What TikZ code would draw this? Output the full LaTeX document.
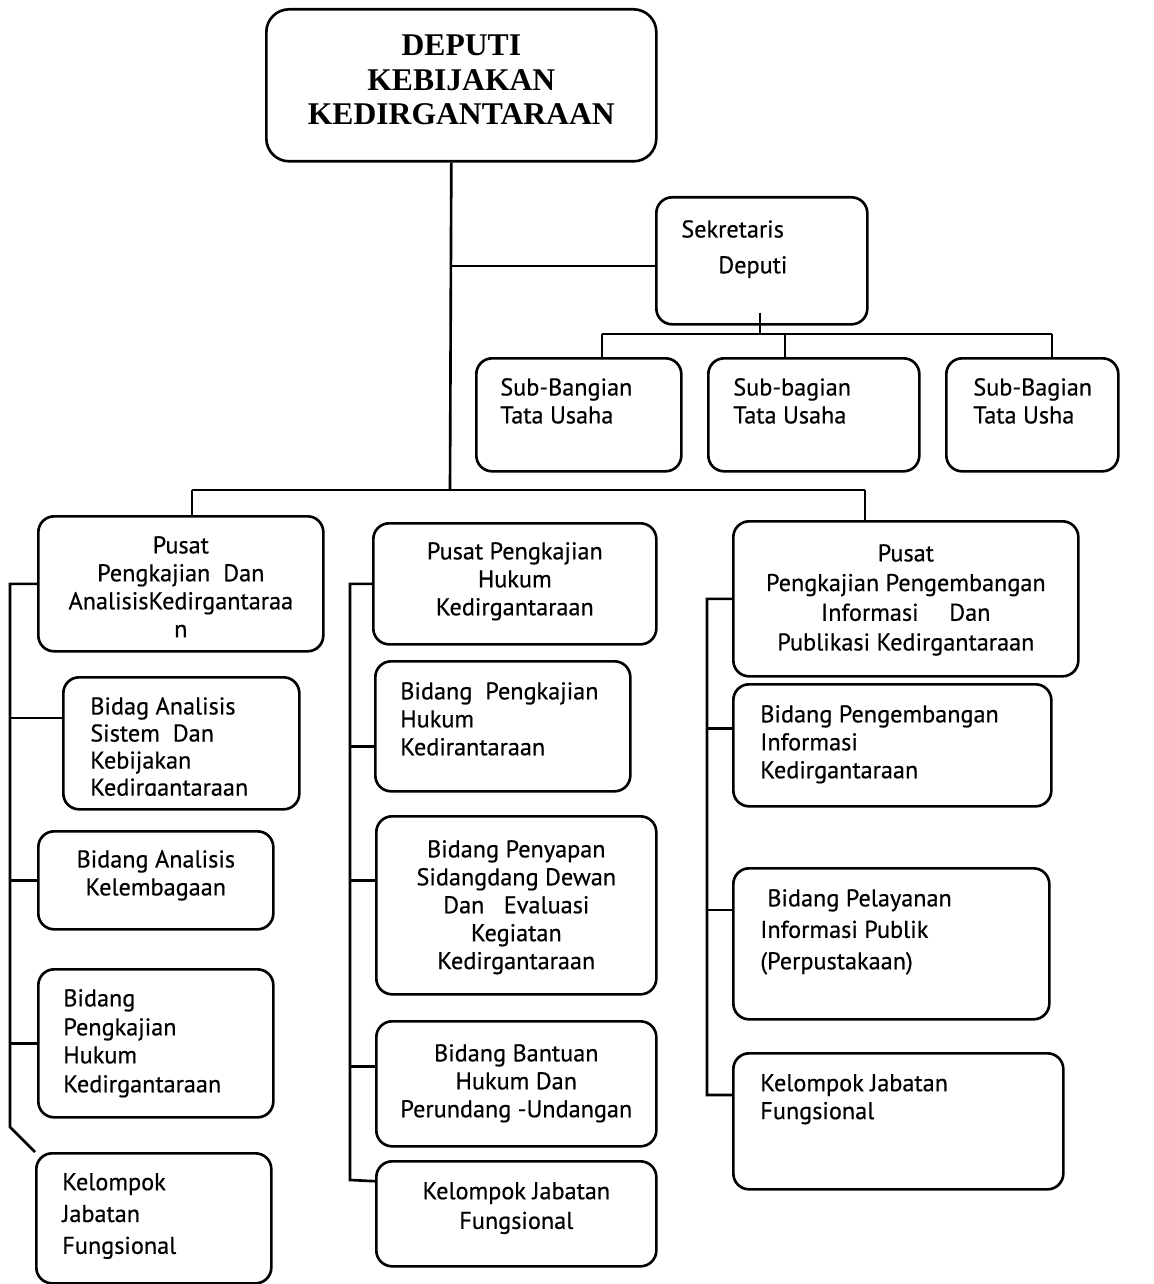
\documentclass[tikz,border=0pt]{standalone}
\usepackage{fontspec}
\setmainfont{PT Sans}[FakeBold=0.5]
\newfontfamily\headfont{Liberation Serif}
\usetikzlibrary{positioning}

\tikzset{
  box/.style 2 args={draw, line width=1.5pt, rounded corners=9pt, anchor=north west,
    inner sep=0pt, minimum width=#1*0.02cm, minimum height=#2*0.02cm},
  txt/.style={inner sep=0pt, yshift=-2.2pt, font=\fontsize{13.8}{15.9}\selectfont},
  txtl/.style={txt, align=left},
  txtc/.style={txt, align=center},
  link/.style={line width=1.5pt},
}

\begin{document}
\begin{tikzpicture}[x=0.02cm, y=-0.02cm]
\useasboundingbox (0,0) rectangle (1153,1284);

% top
\node[box={390}{152}, rounded corners=13pt] (deputi) at (265,8) {};
\node[txtc, yshift=2.2pt, font=\headfont\bfseries\fontsize{18}{19.9}\selectfont, below=0.52cm of deputi.north] (deputi t)
  {DEPUTI\\KEBIJAKAN\\KEDIRGANTARAAN};

\node[box={211}{127}] (sekr) at (655,196) {};
\node[txtl, below right=0.4cm and 0.52cm of sekr.north west] (sekr t)
  {Sekretaris\\[4.5pt]\hspace*{0.74cm}Deputi};

\node[box={205}{113}] (sub1) at (475,357) {};
\node[box={211}{113}] (sub2) at (707,357) {};
\node[box={172}{113}] (sub3) at (945,357) {};
\node[txtl, below right=0.34cm and 0.5cm of sub1.north west] (sub1 t) {Sub-Bangian\\Tata Usaha};
\node[txtl, below right=0.34cm and 0.52cm of sub2.north west] (sub2 t) {Sub-bagian\\Tata Usaha};
\node[txtl, below right=0.34cm and 0.56cm of sub3.north west] (sub3 t) {Sub-Bagian\\Tata Usha};

% kolom kiri
\node[box={285}{135}] (pa) at (37,515) {};
\node[txtc, below=0.34cm of pa.north] (pa t)
  {Pusat\\Pengkajian\ \ Dan\\AnalisisKedirgantaraa\\n};
\node[box={236}{132}] (ba) at (62,676) {};
\begin{scope}
  \clip (ba.north west) rectangle ([shift={(0,-15)}]ba.south east);
  \node[txtl, font=\fontsize{13.8}{15.4}\selectfont, below right=0.34cm and 0.56cm of ba.north west] (ba t)
    {Bidag Analisis\\Sistem\ \ Dan\\Kebijakan\\Kedirgantaraan};
\end{scope}
\node[box={235}{98}] (bk) at (37,830) {};
\node[txtc, below=0.32cm of bk.north] (bk t) {Bidang Analisis\\Kelembagaan};
\node[box={235}{148}] (bh) at (37,968) {};
\node[txtl, below right=0.34cm and 0.52cm of bh.north west] (bh t)
  {Bidang\\[0.6pt]Pengkajian\\Hukum\\[0.6pt]Kedirgantaraan};
\node[box={235}{130}] (kf1) at (35,1152) {};
\node[txtl, below right=0.34cm and 0.54cm of kf1.north west] (kf1 t)
  {Kelompok\\[2.2pt]Jabatan\\[2.2pt]Fungsional};

% kolom tengah
\node[box={283}{121}] (pb) at (372,522) {};
\node[txtc, below=0.32cm of pb.north] (pb t) {Pusat Pengkajian\\Hukum\\Kedirgantaraan};
\node[box={255}{130}] (bph) at (374,660) {};
\node[txtl, below right=0.36cm and 0.52cm of bph.north west] (bph t)
  {Bidang\ \ Pengkajian\\Hukum\\Kedirantaraan};
\node[box={280}{178}] (bps) at (375,815) {};
\node[txtc, below=0.42cm of bps.north] (bps t)
  {Bidang Penyapan\\Sidangdang Dewan\\Dan\ \ \ Evaluasi\\Kegiatan\\Kedirgantaraan};
\node[box={280}{125}] (bbh) at (375,1020) {};
\node[txtc, below=0.4cm of bbh.north] (bbh t) {Bidang Bantuan\\Hukum Dan\\Perundang -Undangan};
\node[box={280}{105}] (kf2) at (375,1160) {};
\node[txtc, below=0.36cm of kf2.north] (kf2 t) {Kelompok Jabatan\\[1pt]Fungsional};

% kolom kanan
\node[box={345}{155}] (pc) at (732,520) {};
\node[txtc, below=0.4cm of pc.north] (pc t)
  {Pusat\\[1pt]Pengkajian Pengembangan\\[1pt]Informasi\quad\ Dan\\[1pt]Publikasi Kedirgantaraan};
\node[box={318}{122}] (bpi) at (732,683) {};
\node[txtl, below right=0.36cm and 0.56cm of bpi.north west] (bpi t)
  {Bidang Pengembangan\\Informasi\\Kedirgantaraan};
\node[box={316}{151}] (bpl) at (732,867) {};
\node[txtl, below right=0.36cm and 0.56cm of bpl.north west] (bpl t)
  {\hspace*{0.14cm}Bidang Pelayanan\\[2pt]Informasi Publik\\[2pt](Perpustakaan)};
\node[box={330}{136}] (kf3) at (732,1052) {};
\node[txtl, below right=0.36cm and 0.56cm of kf3.north west] (kf3 t)
  {Kelompok Jabatan\\Fungsional};

% garis
\coordinate (hub) at (450,490);
\coordinate (bar l) at (192,490);
\coordinate (bar r) at (865,490);
\coordinate (sbar l) at (602,334);
\coordinate (sbar m) at (785,334);
\coordinate (sbar r) at (1052,334);
\coordinate (lknee) at (10,1127);
\coordinate (mknee) at (350,1180);
\coordinate (rknee) at (707,1095);

\draw[link] ([shift={(-10,0)}]deputi.south) -- (hub);
\draw[link] ([shift={(0,5)}]sekr.west) -- ([shift={(0,5)}]sekr.west -| hub);
\draw[link] (bar l) -- (bar r);
\draw[link] (bar l) -- (bar l |- pa.north);
\draw[link] (bar r) -- (bar r |- pc.north);

\draw[link] ([shift={(-2,-13)}]sekr.south) -- ([shift={(-2,0)}]sekr.south |- sbar l);
\draw[link] (sbar l) -- (sbar r);
\draw[link] (sbar l) -- (sbar l |- sub1.north);
\draw[link] (sbar m) -- (sbar m |- sub2.north);
\draw[link] (sbar r) -- (sbar r |- sub3.north);

\draw[link] (pa.west) -| (lknee) -- (kf1.north west);
\draw[link] (ba.168) -- (ba.168 -| lknee);
\draw[link] (bk.west) -- (bk.west -| lknee);
\draw[link] (bh.west) -- (bh.west -| lknee);

\draw[link] (pb.west) -| (mknee) -- (kf2.167);
\draw[link] (bph.189) -- (bph.189 -| mknee);
\draw[link] (bps.170) -- (bps.170 -| mknee);
\draw[link] (bbh.173) -- (bbh.173 -| mknee);

\draw[link] (pc.west) -| (rknee) -- (kf3.171);
\draw[link] (bpi.174) -- (bpi.174 -| rknee);
\draw[link] (bpl.168) -- (bpl.168 -| rknee);
\end{tikzpicture}
\end{document}
